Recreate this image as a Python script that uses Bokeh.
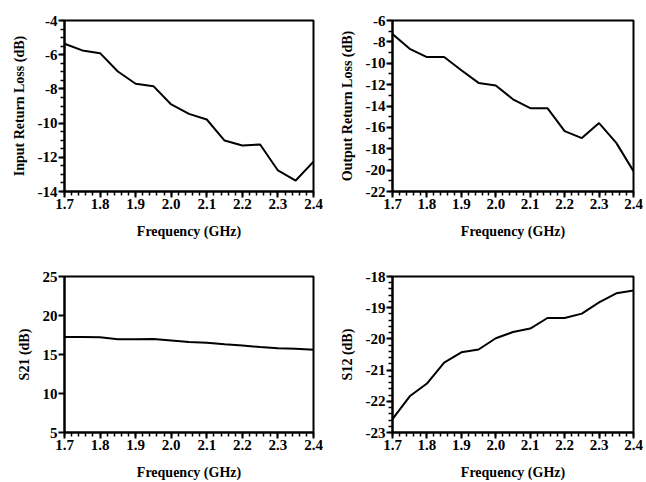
from bokeh.plotting import figure
from bokeh.layouts import gridplot
from bokeh.models import Range1d, FixedTicker, NumeralTickFormatter
from bokeh.embed import file_html
from bokeh.resources import INLINE

freq = [1.70, 1.75, 1.80, 1.85, 1.90, 1.95, 2.00, 2.05, 2.10, 2.15, 2.20, 2.25, 2.30, 2.35, 2.40]
s11 = [-5.36, -5.75, -5.91, -6.98, -7.70, -7.84, -8.91, -9.46, -9.79, -11.02, -11.31, -11.25, -12.77, -13.36, -12.25]
s22 = [-7.27, -8.65, -9.42, -9.42, -10.66, -11.84, -12.08, -13.37, -14.20, -14.20, -16.35, -17.00, -15.60, -17.45, -20.10]
s21 = [17.25, 17.25, 17.2, 16.95, 16.95, 17.0, 16.8, 16.6, 16.5, 16.3, 16.15, 15.95, 15.8, 15.75, 15.6]
s12 = [-22.57, -21.84, -21.43, -20.76, -20.43, -20.34, -19.98, -19.78, -19.67, -19.33, -19.33, -19.19, -18.83, -18.54, -18.45]

x_ticks = [1.7, 1.8, 1.9, 2.0, 2.1, 2.2, 2.3, 2.4]
FONT = "Liberation Serif"


def panel(y, ylabel, yr, yticks, yminor, borders):
    left, right, top, bottom = borders
    p = figure(width=323, height=241, output_backend="svg", toolbar_location=None,
               x_range=Range1d(1.7, 2.4), y_range=Range1d(*yr),
               min_border_left=left, min_border_right=right,
               min_border_top=top, min_border_bottom=bottom)
    p.line(freq, y, line_color="black", line_width=2)
    p.xgrid.visible = False
    p.ygrid.visible = False
    p.outline_line_color = "black"
    p.outline_line_width = 2
    p.xaxis.ticker = FixedTicker(ticks=x_ticks, minor_ticks=[1.7 + 0.02 * i for i in range(36)])
    p.xaxis.formatter = NumeralTickFormatter(format="0.0")
    p.yaxis.ticker = FixedTicker(ticks=yticks, minor_ticks=yminor)
    p.yaxis.formatter = NumeralTickFormatter(format="0")
    p.xaxis.axis_label = "Frequency (GHz)"
    p.yaxis.axis_label = ylabel
    for ax in (p.xaxis[0], p.yaxis[0]):
        ax.axis_line_color = "black"
        ax.axis_line_width = 2
        ax.major_tick_line_color = "black"
        ax.minor_tick_line_color = "black"
        ax.major_tick_line_width = 2
        ax.minor_tick_line_width = 1.5
        ax.major_tick_in = 0
        ax.major_tick_out = 6
        ax.minor_tick_in = 0
        ax.minor_tick_out = 4
        ax.major_label_text_font = FONT
        ax.major_label_text_font_style = "bold"
        ax.major_label_text_font_size = "15px"
        ax.major_label_text_color = "black"
        ax.axis_label_text_font = FONT
        ax.axis_label_text_font_style = "bold"
        ax.axis_label_text_font_size = "14px"
        ax.axis_label_text_color = "black"
    p.xaxis.major_label_standoff = 1
    p.xaxis.axis_label_standoff = 12
    p.yaxis.major_label_standoff = 1
    p.yaxis.axis_label_standoff = 8
    return p


p1 = panel(s11, "Input Return Loss (dB)", (-14, -4), [-14, -12, -10, -8, -6, -4],
           [-14 + 0.5 * i for i in range(21)], (64, 10, 20, 50))
p2 = panel(s22, "Output Return Loss (dB)", (-22, -6), list(range(-22, -5, 2)),
           list(range(-22, -5, 1)), (69, 13, 14, 46))
p3 = panel(s21, "S21 (dB)", (5, 25), [5, 10, 15, 20, 25],
           [], (62, 4, 35, 49))
p4 = panel(s12, "S12 (dB)", (-23, -18), [-23, -22, -21, -20, -19, -18],
           [-23 + 0.2 * i for i in range(26)], (66, 10, 32, 48))

grid = gridplot([[p1, p2], [p3, p4]], toolbar_location=None)

open("out.html", "w").write(file_html(grid, INLINE))
